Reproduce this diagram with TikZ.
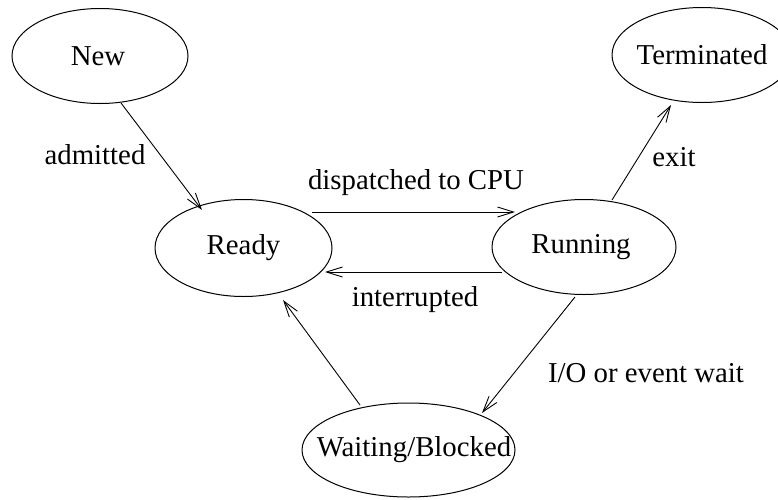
\documentclass[tikz,border=0pt]{standalone}
\usepackage{fontspec}
\setmainfont{Liberation Serif}
\usetikzlibrary{shapes.geometric,arrows.meta}
% state text set in a zero-width box so that the ellipse keeps its given size
\newcommand{\statetext}[1]{\makebox[0pt]{#1}}
\begin{document}
\begin{tikzpicture}[x=1pt,y=1pt,
  state/.style={draw, ellipse, line width=1pt, inner sep=0pt},
  trans/.style={draw, line width=0.9pt,
    -{Straight Barb[length=16pt,width=10pt,line width=0.9pt]}},
  lbl/.style={inner sep=0pt},
  every node/.style={font=\fontsize{28.8}{33}\selectfont}]
\useasboundingbox (0,0) rectangle (778,-499);

% process states
\node[state, minimum width=176pt, minimum height=95pt] (new)   at (100,-56)    {\statetext{\hspace*{-4pt}New}};
\node[state, minimum width=177pt, minimum height=97pt] (ready) at (243.5,-248) {\statetext{Ready}};
\node[state, minimum width=184pt, minimum height=95pt] (run)   at (584,-247)   {\statetext{\hspace*{-6pt}Running}};
\node[state, minimum width=180pt, minimum height=95pt] (term)  at (702,-55)    {\statetext{Terminated}};
\node[state, minimum width=213pt, minimum height=94pt] (wait)  at (408.5,-450) {\statetext{\hspace*{11pt}Waiting/Blocked}};

% transitions
\draw[trans] ([shift={(21,-47)}]new.center)    -- ([shift={(-41.5,38)}]ready.center);
\draw[trans] ([shift={(68.5,36)}]ready.center) -- ([shift={(-69,35)}]run.center);
\draw[trans] ([shift={(-82,-25)}]run.center)   -- ([shift={(81.5,-24)}]ready.center);
\draw[trans] ([shift={(28,47)}]run.center)     -- ([shift={(-31,-50)}]term.center);
\draw[trans] ([shift={(-9,-50)}]run.center)    -- ([shift={(73.5,37)}]wait.center);
\draw[trans] ([shift={(-48.5,45)}]wait.center) -- ([shift={(39.5,-52)}]ready.center);

% transition labels
\node[lbl] (ladm)  at (95,-155)  {admitted};
\node[lbl] (ldisp) at (416,-183) {dispatched to CPU};
\node[lbl] (lint)  at (415,-300) {interrupted};
\node[lbl] (lexit) at (674,-157) {exit};
\node[lbl] (lio)   at (646,-373) {I/O or event wait};
\end{tikzpicture}
\end{document}
